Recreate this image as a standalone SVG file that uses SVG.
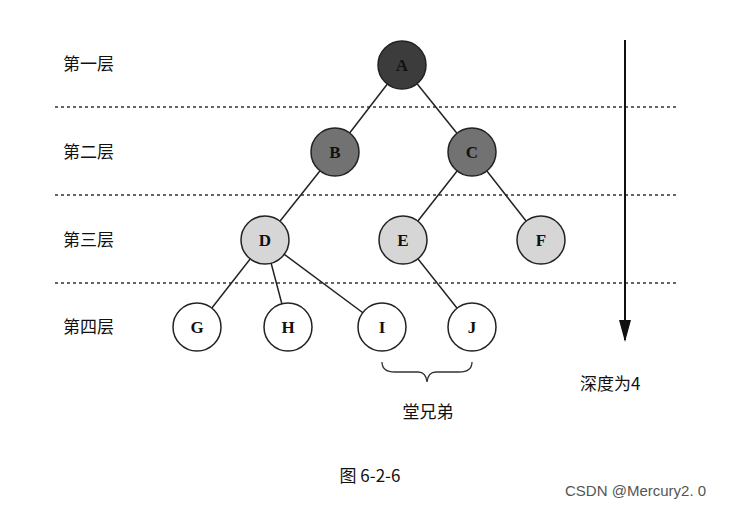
<svg xmlns="http://www.w3.org/2000/svg" width="756" height="507" viewBox="0 0 756 507">
<style>
.n{stroke:#222;stroke-width:1.5}
.t{font-family:"Liberation Serif",serif;font-size:17px;font-weight:bold;text-anchor:middle;dominant-baseline:central;fill:#111}
.l{font-family:"Noto Sans CJK SC",sans-serif;font-size:17px;fill:#111}
.d{stroke:#333;stroke-width:1.3;stroke-dasharray:3,3}
</style>
<defs><marker id="ah" markerWidth="22" markerHeight="12" refX="20" refY="6" orient="auto" markerUnits="userSpaceOnUse"><path d="M0,0 L22,6 L0,12 Z" fill="#111"/></marker></defs>
<rect width="756" height="507" fill="#fff"/>
<g id="guides">
<line class="d" x1="55" y1="107" x2="678" y2="107"/>
<line class="d" x1="55" y1="195" x2="678" y2="195"/>
<line class="d" x1="55" y1="283" x2="678" y2="283"/>
<text class="l" x="63" y="70">第一层</text>
<text class="l" x="63" y="158">第二层</text>
<text class="l" x="63" y="246">第三层</text>
<text class="l" x="63" y="333">第四层</text>
<line x1="625" y1="40" x2="625" y2="340" stroke="#111" stroke-width="2" marker-end="url(#ah)"/>
<text class="l" x="580" y="390">深度为4</text>
<path d="M382,362 Q382,372 395,372 L418,372 Q426,372 427,382 Q428,372 436,372 L459,372 Q472,372 472,362" fill="none" stroke="#333" stroke-width="1.3"/>
<text class="l" x="428" y="418" text-anchor="middle">堂兄弟</text>
<text class="l" x="370" y="482" text-anchor="middle">图 6-2-6</text>
<text x="565" y="496" font-family="Liberation Sans,sans-serif" font-size="15" fill="#555">CSDN @Mercury2. 0</text>
</g>
<g id="connectors" stroke="#222" stroke-width="1.5">
<line x1="402" y1="65" x2="335" y2="152"/><line x1="402" y1="65" x2="472" y2="152"/>
<line x1="335" y1="152" x2="265" y2="240"/><line x1="472" y1="152" x2="403" y2="240"/><line x1="472" y1="152" x2="541" y2="240"/>
<line x1="265" y1="240" x2="197" y2="327"/><line x1="265" y1="240" x2="288" y2="327"/><line x1="265" y1="240" x2="382" y2="327"/>
<line x1="403" y1="240" x2="472" y2="327"/>
</g>
<g id="A"><circle class="n" cx="402" cy="65" r="24" fill="#3c3c3c"/><text class="t" x="402" y="65">A</text></g>
<g id="B"><circle class="n" cx="335" cy="152" r="24" fill="#727272"/><text class="t" x="335" y="152">B</text></g>
<g id="C"><circle class="n" cx="472" cy="152" r="24" fill="#727272"/><text class="t" x="472" y="152">C</text></g>
<g id="D"><circle class="n" cx="265" cy="240" r="24" fill="#d6d6d6"/><text class="t" x="265" y="240">D</text></g>
<g id="E"><circle class="n" cx="403" cy="240" r="24" fill="#d6d6d6"/><text class="t" x="403" y="240">E</text></g>
<g id="F"><circle class="n" cx="541" cy="240" r="24" fill="#d6d6d6"/><text class="t" x="541" y="240">F</text></g>
<g id="G"><circle class="n" cx="197" cy="327" r="24" fill="#fff"/><text class="t" x="197" y="327">G</text></g>
<g id="H"><circle class="n" cx="288" cy="327" r="24" fill="#fff"/><text class="t" x="288" y="327">H</text></g>
<g id="I"><circle class="n" cx="382" cy="327" r="24" fill="#fff"/><text class="t" x="382" y="327">I</text></g>
<g id="J"><circle class="n" cx="472" cy="327" r="24" fill="#fff"/><text class="t" x="472" y="327">J</text></g>
</svg>
